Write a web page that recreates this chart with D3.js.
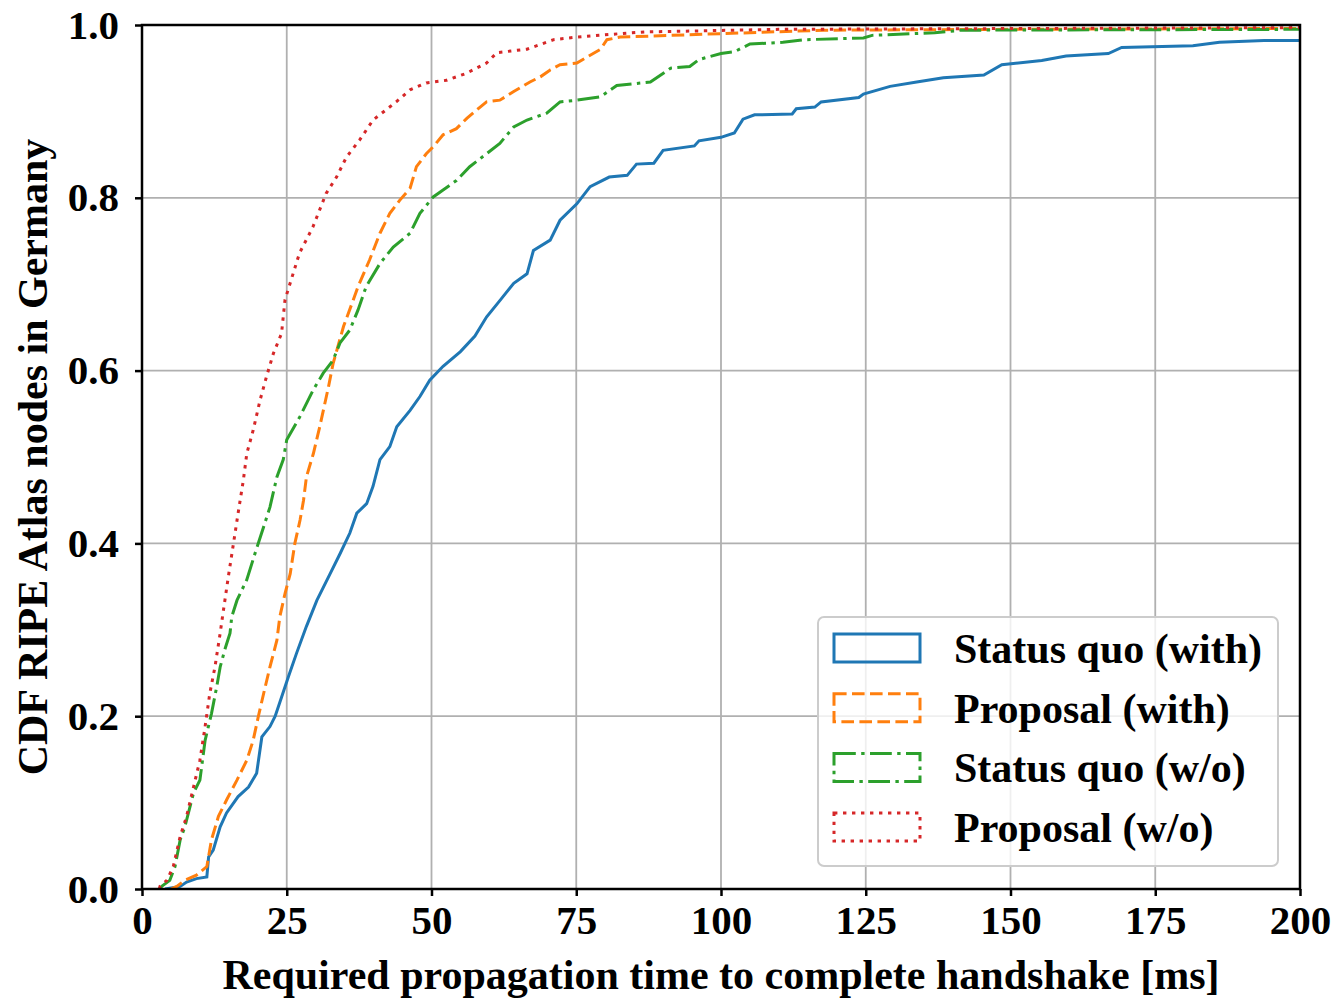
<!DOCTYPE html>
<html>
<head>
<meta charset="utf-8">
<script src="https://cdn.jsdelivr.net/npm/d3@7"></script>
<style>
  body { margin: 0; background: #fff; }
  text { font-family: "Liberation Serif", "Times New Roman", serif; font-weight: bold; }
</style>
</head>
<body>
<div id="chart"></div>
<script>
(function () {

	var xTicks = [0, 25, 50, 75, 100, 125, 150, 175, 200];
	var yTicks = [0.0, 0.2, 0.4, 0.6, 0.8, 1.0];

	var seriesNames = ["Status quo (with)", "Proposal (with)", "Status quo (w/o)", "Proposal (w/o)"];
	var seriesColors = ["#1f77b4", "#ff7f0e", "#2ca02c", "#d62728"];
	var seriesDash = ["", "12.6,5.4", "21.8,5.4,3.4,5.4", "3.4,5.6"];

	// [ms, cdf]
	var statusWith = [
		[4, 0], [6.6, 0.003], [7.7, 0.008], [9.4, 0.012], [11.2, 0.014], [11.5, 0.037], [12.3, 0.045],
		[13.5, 0.072], [14.6, 0.088], [16.6, 0.107], [18.4, 0.118], [19.8, 0.134], [20.7, 0.176],
		[22.1, 0.188], [23, 0.2], [24.1, 0.222], [25.3, 0.246], [26.7, 0.273], [28.4, 0.304],
		[30.2, 0.334], [32.5, 0.365], [34.2, 0.388], [35.9, 0.412], [37.1, 0.435], [38.8, 0.446],
		[39.9, 0.466], [41.1, 0.497], [42.8, 0.512], [44, 0.535], [46.3, 0.554], [48, 0.57],
		[49.7, 0.589], [52, 0.605], [55, 0.622], [57.5, 0.64], [59.5, 0.662], [61.8, 0.681],
		[64.2, 0.701], [66.5, 0.712], [67.6, 0.739], [70.5, 0.751], [72.2, 0.774], [75.1, 0.793],
		[77.4, 0.813], [80.7, 0.824], [83.8, 0.826], [85.4, 0.839], [88.4, 0.84], [90, 0.855],
		[95.4, 0.86], [96.2, 0.866], [100, 0.87], [102.3, 0.875], [103.8, 0.891], [105.8, 0.896],
		[112.3, 0.897], [113, 0.903], [116.2, 0.905], [117.3, 0.911], [123.8, 0.916], [124.6, 0.92],
		[129.2, 0.929], [133.8, 0.934], [138.4, 0.939], [145.4, 0.942], [148.5, 0.954], [155.4, 0.959],
		[159.6, 0.964], [166.9, 0.967], [169.2, 0.974], [181.5, 0.976], [186.1, 0.98], [193.8, 0.982],
		[200, 0.982]
	];

	var proposalWith = [
		[5, 0], [6, 0.003], [7.4, 0.01], [9.4, 0.016], [11.2, 0.026], [12, 0.057], [13.2, 0.084],
		[14.6, 0.103], [16.4, 0.126], [18.1, 0.149], [19.2, 0.172], [20.1, 0.2], [21, 0.226],
		[22.1, 0.257], [23.3, 0.288], [23.8, 0.315], [24.7, 0.342], [25.6, 0.365], [26.4, 0.4],
		[27.3, 0.427], [27.9, 0.45], [28.4, 0.477], [29.6, 0.504], [30.7, 0.535], [32.2, 0.581],
		[33, 0.608], [34.8, 0.651], [36.5, 0.682], [37.3, 0.697], [39.3, 0.728], [41.1, 0.759],
		[42.8, 0.782], [44.5, 0.797], [46.3, 0.811], [47.4, 0.836], [49.1, 0.851], [50.3, 0.859],
		[52, 0.873], [54.3, 0.88], [56.1, 0.892], [58.4, 0.905], [59.5, 0.911], [61.8, 0.913],
		[64.2, 0.923], [67, 0.934], [68.8, 0.94], [70.5, 0.948], [72.2, 0.954], [75.1, 0.956],
		[76.9, 0.963], [79.2, 0.972], [80.3, 0.983], [82.6, 0.986], [100, 0.99], [117.7, 0.994],
		[150, 0.995], [200, 0.996]
	];

	var statusWithout = [
		[3, 0], [3.4, 0.003], [4.8, 0.01], [5.7, 0.026], [6.6, 0.057], [7.4, 0.072], [8.9, 0.111],
		[10, 0.126], [10.9, 0.172], [12, 0.203], [12.9, 0.234], [13.5, 0.257], [14.3, 0.277],
		[15.2, 0.296], [15.5, 0.315], [16.4, 0.334], [18.1, 0.358], [19.5, 0.388], [21, 0.419],
		[22.1, 0.442], [23.3, 0.477], [24.4, 0.497], [25, 0.52], [27.3, 0.547], [29.6, 0.578],
		[31.3, 0.597], [33, 0.612], [34.2, 0.632], [35.9, 0.647], [37.3, 0.67], [38.7, 0.697],
		[41.1, 0.724], [43.4, 0.743], [46.3, 0.759], [48, 0.782], [50.3, 0.801], [52, 0.809],
		[54.3, 0.82], [56.6, 0.836], [59.5, 0.851], [61.8, 0.863], [64.2, 0.882], [66.5, 0.89],
		[69.9, 0.898], [72.2, 0.911], [75.1, 0.913], [79.2, 0.917], [82, 0.93], [87.8, 0.934],
		[91.3, 0.95], [94.6, 0.952], [96.2, 0.96], [100, 0.967], [102.3, 0.969], [105, 0.978],
		[110.7, 0.98], [114.6, 0.983], [124.6, 0.985], [126.1, 0.988], [136.9, 0.991],
		[141.5, 0.994], [200, 0.995]
	];

	var proposalWithout = [
		[3, 0], [3.1, 0.003], [4.3, 0.01], [5.4, 0.026], [6.6, 0.061], [7.7, 0.084], [8.9, 0.118],
		[10, 0.149], [10.9, 0.188], [11.7, 0.226], [12.6, 0.257], [13.5, 0.296], [13.9, 0.315],
		[14.9, 0.361], [15.8, 0.4], [16.6, 0.435], [17.5, 0.473], [18.1, 0.504], [19.2, 0.531],
		[20.4, 0.566], [21.5, 0.593], [22.7, 0.62], [24.1, 0.643], [24.7, 0.682], [27.2, 0.736],
		[29.5, 0.766], [31.8, 0.805], [33.6, 0.824], [35.3, 0.847], [37.6, 0.867], [39.9, 0.89],
		[43.9, 0.911], [46.3, 0.925], [49.1, 0.933], [52.6, 0.936], [56, 0.944], [59.5, 0.956],
		[61.3, 0.968], [66.5, 0.972], [71.1, 0.983], [75.1, 0.986], [82.6, 0.99], [87, 0.992],
		[110, 0.995], [200, 0.997]
	];

	var allSeries = [statusWith, proposalWith, statusWithout, proposalWithout];

	var margin = {top: 25, left: 142, right: 37, bottom: 110},
	width = 1337 - margin.left - margin.right,
	height = 999 - margin.top - margin.bottom;

	var svg = d3.select("#chart")
		.append("svg")
		.attr("width", 1337)
		.attr("height", 999)
		.append("g")
		.attr("transform", "translate(" + margin.left + "," + margin.top + ")");

	var x = d3.scaleLinear().domain([0, 200]).range([0, width]);
	var y = d3.scaleLinear().domain([0, 1]).range([height, 0]);

	// grid
	svg.append("g").selectAll("line")
		.data(xTicks)
		.enter().append("line")
		.attr("x1", d => x(d)).attr("x2", d => x(d))
		.attr("y1", 0).attr("y2", height)
		.attr("stroke", "#b0b0b0").attr("stroke-width", 1.8);

	svg.append("g").selectAll("line")
		.data(yTicks)
		.enter().append("line")
		.attr("x1", 0).attr("x2", width)
		.attr("y1", d => y(d)).attr("y2", d => y(d))
		.attr("stroke", "#b0b0b0").attr("stroke-width", 1.8);

	svg.append("clipPath").attr("id", "clip")
		.append("rect").attr("width", width).attr("height", height);

	var line = d3.line()
		.x(d => x(d[0]))
		.y(d => y(d[1]));

	svg.append("g").attr("clip-path", "url(#clip)")
		.selectAll("path")
		.data(allSeries)
		.enter().append("path")
		.attr("d", line)
		.attr("fill", "none")
		.attr("stroke", (d, i) => seriesColors[i])
		.attr("stroke-width", 3)
		.attr("stroke-dasharray", (d, i) => seriesDash[i] || null);

	// axes
	var xAxis = svg.append("g")
		.attr("transform", "translate(0," + height + ")")
		.call(d3.axisBottom(x).tickValues(xTicks).tickSize(7).tickPadding(9).tickFormat(d3.format("d")));

	var yAxis = svg.append("g")
		.call(d3.axisLeft(y).tickValues(yTicks).tickSize(7).tickPadding(16).tickFormat(d3.format(".1f")));

	[xAxis, yAxis].forEach(function (a) {
		a.select(".domain").remove();
		a.selectAll(".tick line").attr("stroke", "#000").attr("stroke-width", 2.5);
		a.selectAll(".tick text").attr("fill", "#000").style("font-size", "41px")
			.style("font-family", "'Liberation Serif', serif").style("font-weight", "bold");
	});

	svg.append("rect")
		.attr("width", width).attr("height", height)
		.attr("fill", "none").attr("stroke", "#000").attr("stroke-width", 2.5);

	svg.append("text")
		.attr("x", width / 2 + 0).attr("y", height + 100)
		.attr("text-anchor", "middle")
		.style("font-size", "42px")
		.text("Required propagation time to complete handshake [ms]");

	svg.append("text")
		.attr("transform", "translate(" + (-95) + "," + (height / 2) + ") rotate(-90)")
		.attr("text-anchor", "middle")
		.style("font-size", "42px")
		.text("CDF RIPE Atlas nodes in Germany");

	// legend
	var lg = svg.append("g").attr("transform", "translate(" + (818 - margin.left) + "," + (617 - margin.top) + ")");
	lg.append("rect")
		.attr("width", 460).attr("height", 249).attr("rx", 6)
		.attr("fill", "#fff").attr("fill-opacity", 0.8)
		.attr("stroke", "#cccccc").attr("stroke-width", 2);

	var items = lg.selectAll(".item")
		.data(seriesNames)
		.enter().append("g")
		.attr("class", "item")
		.attr("transform", (d, i) => "translate(0," + (i * 59.7) + ")");

	items.append("rect")
		.attr("x", 16).attr("y", 17).attr("width", 86).attr("height", 28)
		.attr("fill", "none")
		.attr("stroke", (d, i) => seriesColors[i])
		.attr("stroke-width", 3)
		.attr("stroke-dasharray", (d, i) => seriesDash[i] || null);

	items.append("text")
		.attr("x", 136).attr("y", 46)
		.style("font-size", "42px")
		.text(d => d);

})();
</script>
</body>
</html>
